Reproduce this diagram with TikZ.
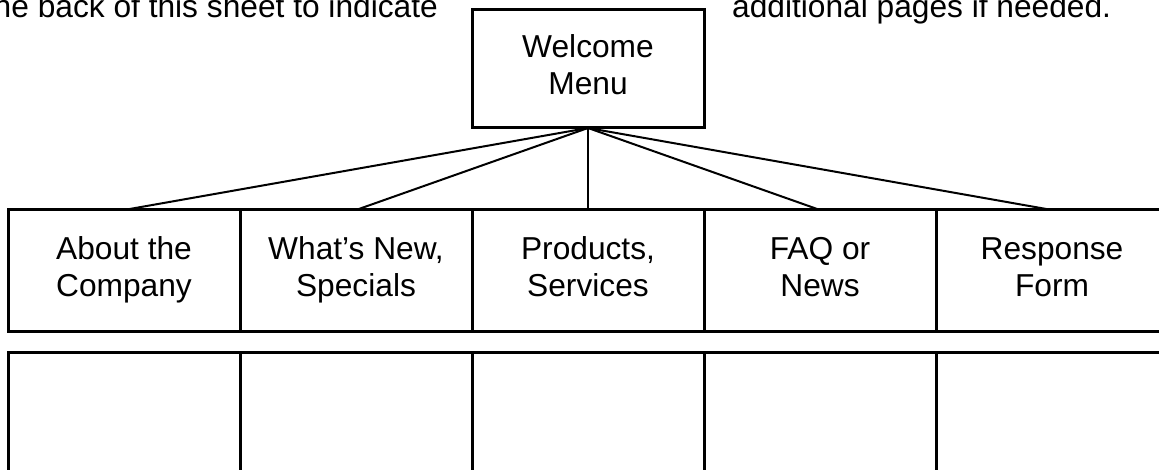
\documentclass[tikz,border=0pt]{standalone}
\usepackage{fontspec}
\setmainfont{Liberation Sans}
\usetikzlibrary{positioning}

\begin{document}
\begin{tikzpicture}
	[x=1pt, y=-1pt, node distance=0pt, font=\fontsize{31.7}{37}\selectfont,
	 main/.style = {draw, line width=3pt, outer sep=0pt, align=center, text height=60pt, text depth=7pt, minimum width=232pt, minimum height=121pt},
	 blank/.style = {draw, line width=3pt, outer sep=0pt, minimum width=232pt, minimum height=140pt},
	 note/.style = {inner sep=0pt}]
	\useasboundingbox (0,0) rectangle (1159,470);
	\node[note, anchor=base east] (t1) at (438,18) {he back of this sheet to indicate};
	\node[note, anchor=base west] (t2) at (732,18) {additional pages if needed.};
	\node[main, minimum height=118pt, text depth=8pt] (0) at (588,69) {Welcome\\Menu};
	\node[main] (3) [below=82pt of 0] {Products,\\Services};
	\node[main] (2) [left=of 3] {What’s New,\\Specials};
	\node[main] (1) [left=of 2] {About the\\Company};
	\node[main] (4) [right=of 3] {FAQ or\\News};
	\node[main] (5) [right=of 4] {Response\\Form};
	\node[blank] (6) [below=21pt of 1] {};
	\node[blank] (7) [below=21pt of 2] {};
	\node[blank] (8) [below=21pt of 3] {};
	\node[blank] (9) [below=21pt of 4] {};
	\node[blank] (10) [below=21pt of 5] {};
	\draw[line width=2pt] (0.south) -- (1.north);
	\draw[line width=2pt] (0.south) -- (2.north);
	\draw[line width=2pt] (0.south) -- (3.north);
	\draw[line width=2pt] (0.south) -- (4.north);
	\draw[line width=2pt] (0.south) -- (5.north);
\end{tikzpicture}
\end{document}
